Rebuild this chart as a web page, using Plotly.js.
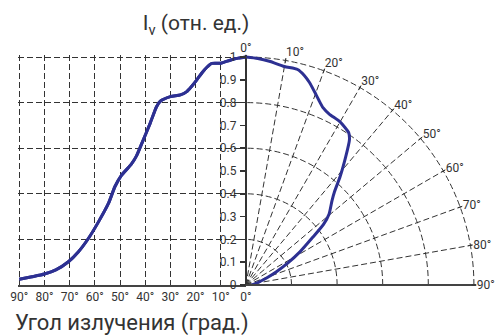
<!DOCTYPE html>
<html><head><meta charset="utf-8">
<script src="https://cdn.plot.ly/plotly-3.0.1.min.js"></script>
<style>html,body{margin:0;padding:0;background:#fff;} #chart{width:496px;height:336px;}</style>
</head><body><div id="chart"></div>
<script>
// Emission angle, degrees
const angles = [0, 3, 6, 10, 13.5, 15.5, 17.5, 19.5, 21.5, 23.5, 26, 30, 34, 35.5, 38, 41, 43.5, 45.5, 49.5, 52, 54.5, 58.5, 62.5, 66.5, 70.5, 75.5, 80, 85, 90];
// Relative luminous intensity
const intensity = [1.0, 0.995, 0.987, 0.973, 0.972, 0.955, 0.93, 0.9, 0.872, 0.848, 0.834, 0.826, 0.806, 0.782, 0.71, 0.63, 0.565, 0.53, 0.48, 0.432, 0.36, 0.278, 0.205, 0.146, 0.102, 0.066, 0.048, 0.036, 0.025];

const titleText = 'I<sub>v</sub> (отн. ед.)';
const xTitleText = 'Угол излучения (град.)';

const W = 496, H = 336;
const FONT = 'Roboto, "DejaVu Sans", sans-serif';
const INK = '#333333';
const LINE = '#2d3092';
const DASH = '6px,3px';

// pixel geometry
const x0px = 245.9, y0px = 285, pxPerDeg = 226.6 / 90, pxPerUnit = 228;
const xMax = 90.6, yMax = 1.01;
const xLeft = x0px - xMax * pxPerDeg;
const yTop = y0px - yMax * pxPerUnit;
const R = yMax * pxPerUnit;

const curveLine = {color: LINE, width: 3, shape: 'spline', smoothing: 0.6};

const traces = [
  {
    type: 'scatter', x: angles, y: intensity, xaxis: 'x', yaxis: 'y',
    mode: 'lines', line: curveLine, hoverinfo: 'skip', showlegend: false
  },
  {
    type: 'scatter', x: angles, y: intensity, xaxis: 'x', yaxis: 'y2',
    mode: 'lines', line: curveLine, hoverinfo: 'skip', showlegend: false
  },
  {
    type: 'scatterpolar', r: intensity, theta: angles, subplot: 'polar',
    mode: 'lines', line: curveLine, hoverinfo: 'skip', showlegend: false
  }
];

const layout = {
  width: W, height: H, autosize: false,
  margin: {l: 0, r: 0, t: 0, b: 0, pad: 0},
  paper_bgcolor: '#fff', plot_bgcolor: 'rgba(0,0,0,0)',
  font: {family: FONT, color: INK, size: 12},
  showlegend: false,
  title: {
    text: titleText, font: {family: FONT, size: 21, color: INK},
    x: 196 / W, xanchor: 'center', xref: 'paper',
    y: 1 - 23 / H, yanchor: 'middle', yref: 'container'
  },
  xaxis: {
    domain: [xLeft / W, x0px / W], range: [xMax, 0],
    tick0: 0, dtick: 10, ticksuffix: '°', ticks: '',
    showgrid: true, gridcolor: INK, gridwidth: 1, griddash: DASH,
    zeroline: false, showline: true, linecolor: '#444', linewidth: 2,
    tickfont: {size: 12, color: INK, family: FONT},
    anchor: 'y',
    title: {text: xTitleText, font: {size: 22, color: INK, family: FONT}, standoff: 20}
  },
  yaxis: {
    domain: [(H - y0px) / H, (H - yTop) / H], range: [0, yMax],
    tick0: 0, dtick: 0.2, showticklabels: false, ticks: '',
    showgrid: true, gridcolor: INK, gridwidth: 1, griddash: DASH,
    zeroline: false, showline: false, anchor: 'x'
  },
  yaxis2: {
    overlaying: 'y', anchor: 'free', position: x0px / W, side: 'left', range: [0, yMax],
    tick0: 0, dtick: 0.1, showgrid: false, zeroline: false,
    showline: true, linecolor: INK, linewidth: 2,
    ticks: 'outside', ticklen: 5, tickcolor: INK, tickwidth: 1.5,
    ticklabelstandoff: 1,
    tickfont: {size: 12, color: INK, family: FONT}
  },
  polar: {
    domain: {x: [x0px / W, (x0px + R) / W], y: [(H - y0px) / H, (H - y0px + R) / H]},
    sector: [0, 90],
    bgcolor: 'rgba(0,0,0,0)',
    angularaxis: {
      rotation: 90, direction: 'clockwise', tick0: 0, dtick: 10, ticksuffix: '°',
      showgrid: true, gridcolor: INK, gridwidth: 1, griddash: DASH,
      showline: false, ticks: 'inside', ticklen: 4, tickcolor: INK,
      tickfont: {size: 12, color: INK, family: FONT}
    },
    radialaxis: {
      range: [0, yMax], tick0: 0, dtick: 0.2, angle: 0,
      showgrid: true, gridcolor: INK, gridwidth: 1, griddash: DASH,
      showticklabels: false, ticks: '',
      showline: true, linecolor: '#444', linewidth: 2
    }
  }
};

Plotly.newPlot('chart', traces, layout, {staticPlot: true, displayModeBar: false});
</script>
</body></html>
